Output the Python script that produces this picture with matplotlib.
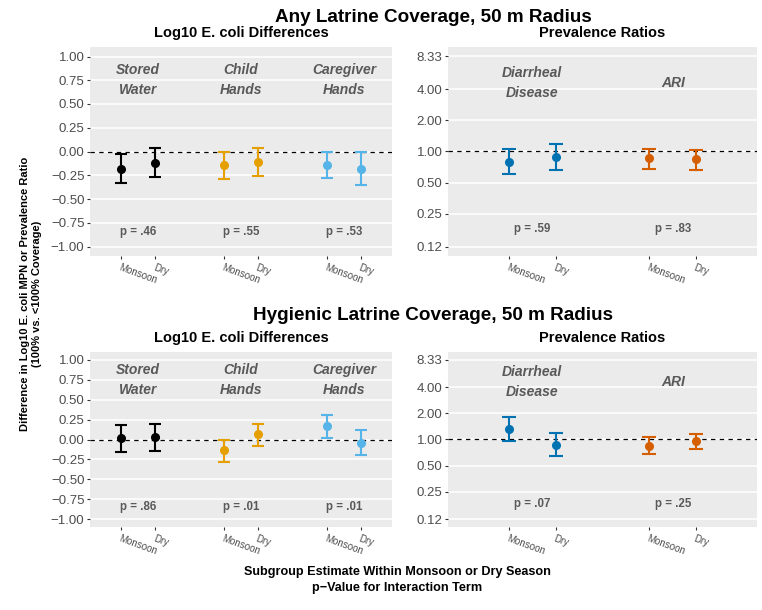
import matplotlib
matplotlib.use('Agg')
import matplotlib.pyplot as plt
import numpy as np

plt.rcParams['font.family'] = ['Liberation Sans', 'DejaVu Sans']

# ---------------- data ----------------
seasons = ['Monsoon', 'Dry']
ecoli_groups = ['Stored\nWater', 'Child\nHands', 'Caregiver\nHands']
pr_groups = ['Diarrheal\nDisease', 'ARI']
ecoli_colors = ['#000000', '#E69F00', '#56B4E9']
pr_colors = ['#0072B2', '#D55E00']

row_titles = ['Any Latrine Coverage, 50 m Radius',
              'Hygienic Latrine Coverage, 50 m Radius']

# Any latrine coverage
any_ecoli_est = [[-0.18, -0.12], [-0.14, -0.11], [-0.14, -0.18]]
any_ecoli_lo = [[-0.33, -0.27], [-0.285, -0.26], [-0.28, -0.355]]
any_ecoli_hi = [[-0.025, 0.035], [0.0, 0.035], [-0.005, -0.005]]
any_ecoli_p = ['.46', '.55', '.53']
any_pr_est = [[0.80, 0.88], [0.86, 0.84]]
any_pr_lo = [[0.61, 0.665], [0.685, 0.67]]
any_pr_hi = [[1.05, 1.17], [1.06, 1.045]]
any_pr_p = ['.59', '.83']

# Hygienic latrine coverage
hyg_ecoli_est = [[0.015, 0.03], [-0.135, 0.063], [0.165, -0.042]]
hyg_ecoli_lo = [[-0.156, -0.143], [-0.278, -0.084], [0.021, -0.194]]
hyg_ecoli_hi = [[0.18, 0.20], [0.0, 0.20], [0.304, 0.118]]
hyg_ecoli_p = ['.86', '.01', '.01']
hyg_pr_est = [[1.32, 0.875], [0.852, 0.957]]
hyg_pr_lo = [[0.957, 0.653], [0.682, 0.773]]
hyg_pr_hi = [[1.80, 1.18], [1.064, 1.17]]
hyg_pr_p = ['.07', '.25']

ecoli_ticks = [-1.0, -0.75, -0.5, -0.25, 0.0, 0.25, 0.5, 0.75, 1.0]
pr_ticks = [0.12, 0.25, 0.5, 1.0, 2.0, 4.0, 8.33]

# ---------------- figure ----------------
W, H = 762, 610
fig = plt.figure(figsize=(W / 100, H / 100), dpi=100)


def ax_at(x0, x1, y0, y1):
    return fig.add_axes([x0 / W, 1 - y1 / H, (x1 - x0) / W, (y1 - y0) / H])


PANEL = '#EBEBEB'
TXT = '#4D4D4D'
LBL = '#595959'


def fmt(t):
    return ('%.2f' % t).replace('-', '\u2212')


def style(ax):
    ax.set_facecolor(PANEL)
    for s in ax.spines.values():
        s.set_visible(False)
    ax.grid(axis='y', color='white', lw=1.1)
    ax.grid(axis='x', visible=False)
    ax.set_axisbelow(True)
    ax.tick_params(axis='both', colors='#333333', labelcolor=TXT, length=2.5,
                   width=0.8)
    ax.tick_params(axis='y', labelsize=9.5, pad=1.5)
    ax.tick_params(axis='x', labelsize=7, pad=2)


def xlabels(ax, xs):
    labs = [seasons[i % 2] for i in range(len(xs))]
    ax.set_xticks(xs)
    ax.set_xticklabels(labs, rotation=-20, ha='left', va='top',
                       rotation_mode='anchor')


def ecoli_panel(ax, est, lo, hi, pv):
    style(ax)
    xs = []
    for g in range(len(ecoli_groups)):
        for s in range(2):
            x = 3 * g + s + 1
            xs.append(x)
            e = est[g][s]
            ax.errorbar([x], [e], yerr=[[e - lo[g][s]], [hi[g][s] - e]],
                        fmt='o', color=ecoli_colors[g], ms=5.5, elinewidth=1.5,
                        capsize=4.0, capthick=1.5, zorder=3)
        ax.text(3 * g + 1.5, 0.75, ecoli_groups[g], ha='center', va='center',
                fontsize=10, fontweight='bold', fontstyle='italic', color=LBL,
                linespacing=1.55)
        ax.text(3 * g + 1.5, -0.85, 'p = ' + pv[g], ha='center', va='center',
                fontsize=8.3, fontweight='bold', color=LBL)
    ax.axhline(0, color='black', lw=0.9, ls=(0, (3.5, 3.5)), zorder=2)
    ax.set_xlim(0.1, 8.9)
    ax.set_ylim(-1.1, 1.1)
    ax.set_yticks(ecoli_ticks)
    ax.set_yticklabels([fmt(t) for t in ecoli_ticks])
    xlabels(ax, xs)


def pr_panel(ax, est, lo, hi, pv):
    style(ax)
    ax.set_yscale('log')
    xs = []
    for g in range(len(pr_groups)):
        for s in range(2):
            x = 3 * g + s + 1
            xs.append(x)
            e = est[g][s]
            ax.errorbar([x], [e], yerr=[[e - lo[g][s]], [hi[g][s] - e]],
                        fmt='o', color=pr_colors[g], ms=5.5, elinewidth=1.5,
                        capsize=5.0, capthick=1.5, zorder=3)
        ax.text(3 * g + 1.5, 4.6, pr_groups[g], ha='center', va='center',
                fontsize=10, fontweight='bold', fontstyle='italic', color=LBL,
                linespacing=1.55)
        ax.text(3 * g + 1.5, 0.18, 'p = ' + pv[g], ha='center', va='center',
                fontsize=8.3, fontweight='bold', color=LBL)
    ax.axhline(1.0, color='black', lw=0.9, ls=(0, (3.5, 3.5)), zorder=2)
    ax.set_xlim(-0.3, 6.3)
    ax.set_ylim(0.12 / 2 ** 0.29, 8.33 * 2 ** 0.29)
    ax.set_yticks(pr_ticks)
    ax.set_yticklabels([fmt(t) for t in pr_ticks])
    ax.yaxis.set_minor_locator(matplotlib.ticker.NullLocator())
    xlabels(ax, xs)


rows = [
    (47, 256, any_ecoli_est, any_ecoli_lo, any_ecoli_hi, any_ecoli_p,
     any_pr_est, any_pr_lo, any_pr_hi, any_pr_p, 17, 33),
    (352, 527, hyg_ecoli_est, hyg_ecoli_lo, hyg_ecoli_hi, hyg_ecoli_p,
     hyg_pr_est, hyg_pr_lo, hyg_pr_hi, hyg_pr_p, 315, 338),
]

for r, (y0, y1, ee, el, eh, ep, pe, pl, ph, pp, ty, sy) in enumerate(rows):
    axl = ax_at(90, 392, y0, y1)
    ecoli_panel(axl, ee, el, eh, ep)
    axr = ax_at(448, 757, y0, y1)
    pr_panel(axr, pe, pl, ph, pp)
    fig.text(433 / W, 1 - ty / H, row_titles[r], ha='center', va='center',
             fontsize=13.6, fontweight='bold')
    fig.text(241 / W, 1 - sy / H, 'Log10 E. coli Differences', ha='center',
             va='center', fontsize=10.5, fontweight='bold')
    fig.text(602.5 / W, 1 - sy / H, 'Prevalence Ratios', ha='center',
             va='center', fontsize=10.5, fontweight='bold')

fig.text(31 / W, 1 - 294 / H,
         'Difference in Log10 E. coli MPN or Prevalence Ratio\n(100% vs. <100% Coverage)',
         rotation=90, ha='center', va='center', fontsize=8, fontweight='bold',
         linespacing=1.3)
fig.text(397 / W, 1 - 580 / H,
         'Subgroup Estimate Within Monsoon or Dry Season\np\u2212Value for Interaction Term',
         ha='center', va='center', fontsize=9.1, fontweight='bold',
         linespacing=1.45)

fig.savefig('out.png', dpi=100)
